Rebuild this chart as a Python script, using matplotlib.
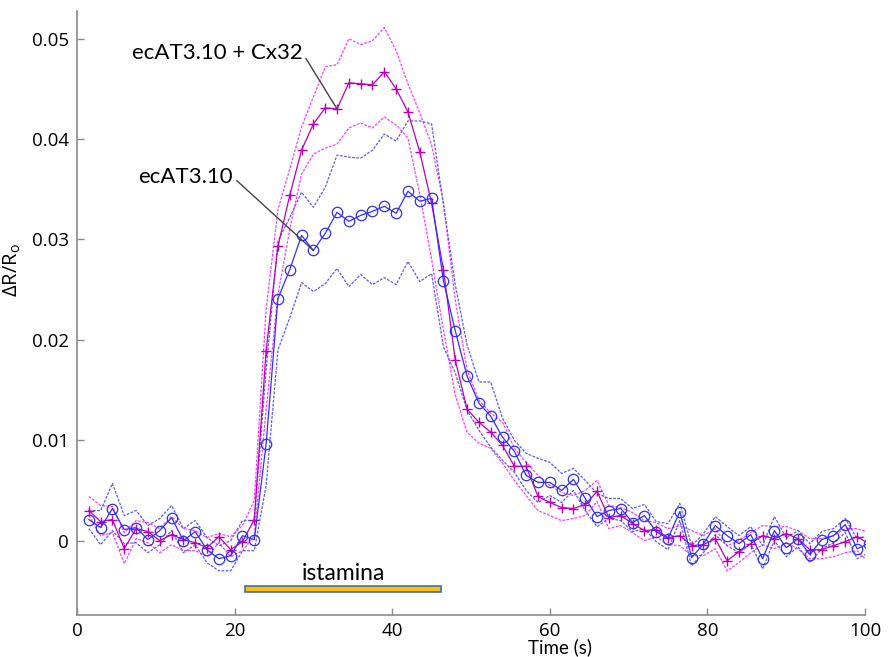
"""
Mean response (with upper/lower bands) for ecAT3.10 and ecAT3.10 + Cx32
after histamine ("istamina") application.
"""

import numpy as np
import matplotlib
matplotlib.use("Agg")
import matplotlib.pyplot as plt
from matplotlib.patches import Rectangle

# sampling: one frame every 1.5 s, frames 1..67
frame_index = np.arange(1, 68)
time_s = 1.5 * frame_index

# ecAT3.10 (blue, circles)
blue_mean = [
    0.0021, 0.0013, 0.0032, 0.0011, 0.0013, 0.0001, 0.0010, 0.0023, 0.0000, 0.0009,
    -0.0009, -0.0018, -0.0015, 0.0005, 0.0001, 0.0096, 0.0241, 0.0270, 0.0304, 0.0289,
    0.0306, 0.0327, 0.0318, 0.0324, 0.0328, 0.0333, 0.0326, 0.0348, 0.0338, 0.0341,
    0.0259, 0.0209, 0.0164, 0.0137, 0.0124, 0.0103, 0.0089, 0.0065, 0.0058, 0.0058,
    0.0050, 0.0061, 0.0042, 0.0024, 0.0030, 0.0032, 0.0018, 0.0025, 0.0009, 0.0002,
    0.0029, -0.0017, -0.0003, 0.0015, 0.0005, -0.0003, 0.0006, -0.0018, 0.0010, -0.0007,
    0.0002, -0.0014, 0.0001, 0.0005, 0.0016, -0.0008, -0.0003,
]
blue_upper = [
    0.0030, 0.0030, 0.0057, 0.0025, 0.0030, 0.0015, 0.0022, 0.0035, 0.0012, 0.0020,
    0.0003, -0.0005, 0.0000, 0.0020, 0.0020, 0.0170, 0.0298, 0.0322, 0.0347, 0.0332,
    0.0352, 0.0384, 0.0382, 0.0381, 0.0389, 0.0405, 0.0398, 0.0418, 0.0418, 0.0415,
    0.0335, 0.0255, 0.0195, 0.0158, 0.0158, 0.0122, 0.0100, 0.0087, 0.0082, 0.0078,
    0.0067, 0.0072, 0.0060, 0.0047, 0.0042, 0.0042, 0.0032, 0.0036, 0.0019, 0.0017,
    0.0037, -0.0005, 0.0007, 0.0024, 0.0014, 0.0005, 0.0014, -0.0005, 0.0024, 0.0003,
    0.0010, -0.0003, 0.0009, 0.0012, 0.0022, 0.0002, 0.0005,
]
blue_lower = [
    0.0012, -0.0004, 0.0010, -0.0003, -0.0002, -0.0012, -0.0004, 0.0010, -0.0012, -0.0004,
    -0.0022, -0.0030, -0.0030, -0.0010, -0.0010, 0.0055, 0.0190, 0.0222, 0.0257, 0.0248,
    0.0256, 0.0271, 0.0253, 0.0265, 0.0255, 0.0262, 0.0255, 0.0278, 0.0258, 0.0266,
    0.0193, 0.0167, 0.0130, 0.0110, 0.0093, 0.0080, 0.0068, 0.0050, 0.0038, 0.0045,
    0.0038, 0.0050, 0.0030, 0.0014, 0.0022, 0.0020, 0.0009, 0.0012, -0.0001, -0.0009,
    0.0020, -0.0025, -0.0012, 0.0006, -0.0005, -0.0012, -0.0003, -0.0028, 0.0000, -0.0016,
    -0.0006, -0.0022, -0.0008, -0.0002, 0.0008, -0.0018, -0.0012,
]

# ecAT3.10 + Cx32 (magenta, plus)
mag_mean = [
    0.0030, 0.0019, 0.0021, -0.0008, 0.0012, 0.0009, 0.0000, 0.0006, 0.0001, -0.0002,
    -0.0007, 0.0004, -0.0009, -0.0001, 0.0021, 0.0189, 0.0293, 0.0344, 0.0389, 0.0415,
    0.0431, 0.0430, 0.0456, 0.0455, 0.0454, 0.0467, 0.0450, 0.0427, 0.0387, 0.0336,
    0.0270, 0.0180, 0.0131, 0.0118, 0.0108, 0.0095, 0.0074, 0.0074, 0.0044, 0.0038,
    0.0033, 0.0032, 0.0036, 0.0049, 0.0023, 0.0025, 0.0017, 0.0010, 0.0011, 0.0003,
    0.0005, -0.0005, -0.0004, 0.0002, -0.0020, -0.0011, -0.0003, 0.0005, 0.0002, 0.0007,
    0.0002, -0.0009, -0.0009, -0.0005, -0.0001, 0.0004, -0.0003,
]
mag_upper = [
    0.0044, 0.0035, 0.0034, 0.0008, 0.0020, 0.0018, 0.0012, 0.0024, 0.0012, 0.0010,
    0.0003, 0.0007, 0.0004, 0.0015, 0.0040, 0.0230, 0.0330, 0.0370, 0.0412, 0.0442,
    0.0472, 0.0474, 0.0500, 0.0494, 0.0498, 0.0511, 0.0488, 0.0455, 0.0426, 0.0394,
    0.0337, 0.0240, 0.0170, 0.0140, 0.0127, 0.0118, 0.0092, 0.0078, 0.0065, 0.0055,
    0.0048, 0.0045, 0.0050, 0.0060, 0.0035, 0.0033, 0.0028, 0.0020, 0.0018, 0.0012,
    0.0015, 0.0010, 0.0005, 0.0012, -0.0005, 0.0000, 0.0008, 0.0015, 0.0014, 0.0014,
    0.0010, 0.0002, 0.0002, 0.0005, 0.0012, 0.0012, 0.0008,
]
mag_lower = [
    0.0025, 0.0005, 0.0008, -0.0023, 0.0002, -0.0002, -0.0012, -0.0004, -0.0010, -0.0010,
    -0.0016, -0.0002, -0.0016, -0.0010, 0.0005, 0.0130, 0.0245, 0.0310, 0.0365, 0.0385,
    0.0391, 0.0395, 0.0411, 0.0416, 0.0411, 0.0422, 0.0414, 0.0401, 0.0345, 0.0280,
    0.0210, 0.0145, 0.0108, 0.0097, 0.0092, 0.0077, 0.0060, 0.0045, 0.0030, 0.0025,
    0.0020, 0.0022, 0.0025, 0.0039, 0.0012, 0.0015, 0.0008, 0.0000, 0.0004, -0.0004,
    -0.0005, -0.0015, -0.0015, -0.0008, -0.0030, -0.0022, -0.0012, -0.0004, -0.0008, -0.0002,
    -0.0008, -0.0018, -0.0018, -0.0016, -0.0012, -0.0010, -0.0022,
]

stim_start, stim_end = 21.3, 46.2
stim_label = "istamina"

x_ticks = [0, 20, 40, 60, 80, 100]
y_ticks = [0, 0.01, 0.02, 0.03, 0.04, 0.05]
y_tick_labels = ["0", "0.01", "0.02", "0.03", "0.04", "0.05"]

BLUE = "#2f2fff"
BLUE_BAND = "#5a5aff"
MAG = "#bb00bb"
MAG_BAND = "#ff3cff"
AXIS_GRAY = "#8a8a8a"
BAND_DASH = (0, (2.2, 1.1))

fig = plt.figure(figsize=(8.88, 6.57), dpi=100)
ax = fig.add_axes([0.0867, 0.064, 0.8874, 0.92])

ax.plot(time_s, mag_upper, ls=BAND_DASH, lw=0.9, color=MAG_BAND)
ax.plot(time_s, mag_lower, ls=BAND_DASH, lw=0.9, color=MAG_BAND)
ax.plot(time_s, blue_upper, ls=BAND_DASH, lw=0.9, color=BLUE_BAND)
ax.plot(time_s, blue_lower, ls=BAND_DASH, lw=0.9, color=BLUE_BAND)
ax.plot(time_s, mag_mean, "-", lw=0.9, color=MAG, marker="+", ms=7, mew=1.0)
ax.plot(time_s, blue_mean, "-", lw=0.9, color=BLUE, marker="o", ms=7.5,
        mfc="none", mew=0.9)

ax.add_patch(Rectangle((stim_start, -0.0051), stim_end - stim_start, 0.0006,
                       facecolor="#ffc000", edgecolor="#41719c", lw=1.2,
                       clip_on=False))
ax.text((stim_start + stim_end) / 2, -0.0033, stim_label, ha="center",
        va="center", fontsize=16.5, family="Lato")

ann_line = dict(arrowstyle="-", color="#444444", lw=1.0, relpos=(1.0, 0.5),
                shrinkA=1, shrinkB=0)
ax.annotate("ecAT3.10 + Cx32", xy=(time_s[21], mag_mean[21]),
            xytext=(28.6, 0.0486), ha="right", va="center", fontsize=16,
            family="Lato", arrowprops=ann_line)
ax.annotate("ecAT3.10", xy=(time_s[19], blue_mean[19]),
            xytext=(19.8, 0.0362), ha="right", va="center", fontsize=16,
            family="Lato", arrowprops=ann_line)

ax.set_xlim(0, 100)
ax.set_ylim(-0.0074, 0.0528)
ax.set_xticks(x_ticks)
ax.set_xticklabels([str(v) for v in x_ticks], family="Open Sans", fontsize=13.5)
ax.set_yticks(y_ticks)
ax.set_yticklabels(y_tick_labels, family="Open Sans", fontsize=13.5)
ax.tick_params(direction="in", length=5, width=1, color=AXIS_GRAY, pad=6)
ax.tick_params(axis="x", pad=5)

for side in ("top", "right"):
    ax.spines[side].set_visible(False)
for side in ("left", "bottom"):
    ax.spines[side].set_color(AXIS_GRAY)
    ax.spines[side].set_linewidth(1.2)

ax.set_xlabel("Time (s)", family="Lato", fontsize=13.5)
ax.xaxis.set_label_coords(0.613, -0.039)
ax.set_ylabel("ΔR/R$_\\mathregular{o}$", family="Open Sans", fontsize=14.5)
ax.yaxis.set_label_coords(-0.068, 0.57)

fig.savefig("out.png", dpi=100)
